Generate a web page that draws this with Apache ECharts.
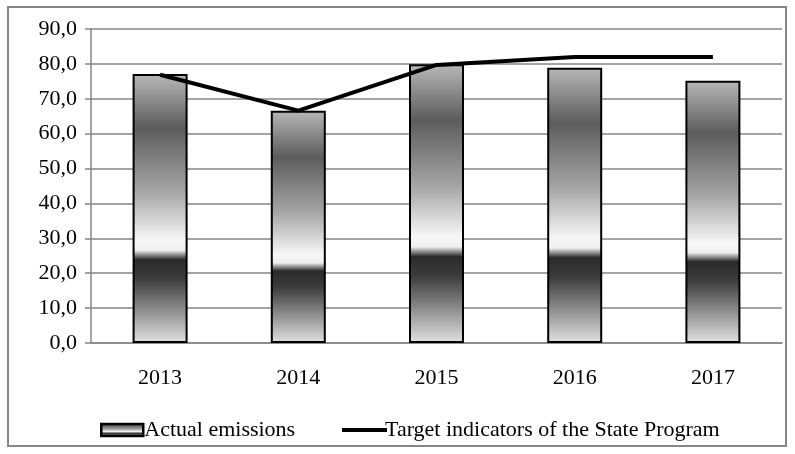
<!DOCTYPE html>
<html>
<head>
<meta charset="utf-8">
<script src="https://cdn.jsdelivr.net/npm/echarts@6/dist/echarts.min.js"></script>
<style>
  html, body { margin: 0; padding: 0; background: #fff; }
  #chart { width: 795px; height: 454px; }
</style>
</head>
<body>
<div id="chart"></div>
<script>
const years = ['2013', '2014', '2015', '2016', '2017']
const actualEmissions = [77.1, 66.6, 79.9, 78.9, 75.2]
const targetIndicators = [76.9, 66.6, 79.7, 82.0, 82.0]
const yTicks = [0, 10, 20, 30, 40, 50, 60, 70, 80, 90]

const serif = "'Liberation Serif', 'Times New Roman', serif"
const grey = '#868686'

// Excel-style "chrome" gradient, relative to each bar
const barFill = new echarts.graphic.LinearGradient(0, 0, 0, 1, [
  { offset: 0,    color: '#b8b8b8' },
  { offset: 0.2,  color: '#5c5c5c' },
  { offset: 0.44, color: '#a6a6a6' },
  { offset: 0.62, color: '#f7f7f7' },
  { offset: 0.655, color: '#f0f0f0' },
  { offset: 0.69, color: '#2a2a2a' },
  { offset: 0.76, color: '#3c3c3c' },
  { offset: 1,    color: '#e2e2e2' },
])

const chart = echarts.init(document.getElementById('chart'), null, { renderer: 'canvas' })

chart.setOption({
  animation: false,
  backgroundColor: '#fff',
  textStyle: { fontFamily: serif, color: '#000' },
  grid: { left: 91, right: 13, top: 29, bottom: 111 },
  graphic: [
    {
      type: 'rect',
      shape: { x: 8, y: 7, width: 778, height: 439 },
      style: { fill: 'none', stroke: grey, lineWidth: 2 },
      silent: true,
    },
  ],
  legend: [
    {
      data: [{ name: 'Actual emissions', icon: 'rect' }],
      left: 95, top: 414,
      itemWidth: 42, itemHeight: 12, itemGap: 4,
      itemStyle: { borderColor: '#000', borderWidth: 2.5 },
      textStyle: { fontFamily: serif, fontSize: 22, color: '#000', padding: [0, 0, 0, -4] },
    },
    {
      data: [{ name: 'Target indicators of the State Program', icon: 'rect' }],
      left: 337, top: 414,
      itemWidth: 45, itemHeight: 4,
      textStyle: { fontFamily: serif, fontSize: 22, color: '#000', padding: [0, 0, 0, -7] },
    },
  ],
  xAxis: {
    type: 'category',
    data: years,
    axisLine: { lineStyle: { color: grey, width: 1.5 } },
    axisTick: { show: false },
    axisLabel: { fontFamily: serif, fontSize: 22, color: '#000', margin: 24 },
  },
  yAxis: {
    type: 'value',
    min: 0, max: 90, interval: 10,
    axisLine: { show: true, lineStyle: { color: grey, width: 1.5 } },
    axisTick: { show: true, length: 6, lineStyle: { color: grey, width: 1.5 } },
    splitLine: { lineStyle: { color: grey, width: 1.5 } },
    axisLabel: {
      fontFamily: serif, fontSize: 22, color: '#000', margin: 14,
      customValues: yTicks,
      formatter: (v) => v.toFixed(1).replace('.', ','),
    },
  },
  series: [
    {
      name: 'Actual emissions',
      type: 'bar',
      data: actualEmissions,
      barWidth: 55,
      itemStyle: { color: barFill, borderColor: '#000', borderWidth: 2 },
      emphasis: { disabled: true },
      z: 2,
    },
    {
      name: 'Target indicators of the State Program',
      type: 'line',
      data: targetIndicators,
      symbol: 'none',
      lineStyle: { color: '#000', width: 4 },
      itemStyle: { color: '#000' },
      emphasis: { disabled: true },
      z: 3,
    },
  ],
})
</script>
</body>
</html>
